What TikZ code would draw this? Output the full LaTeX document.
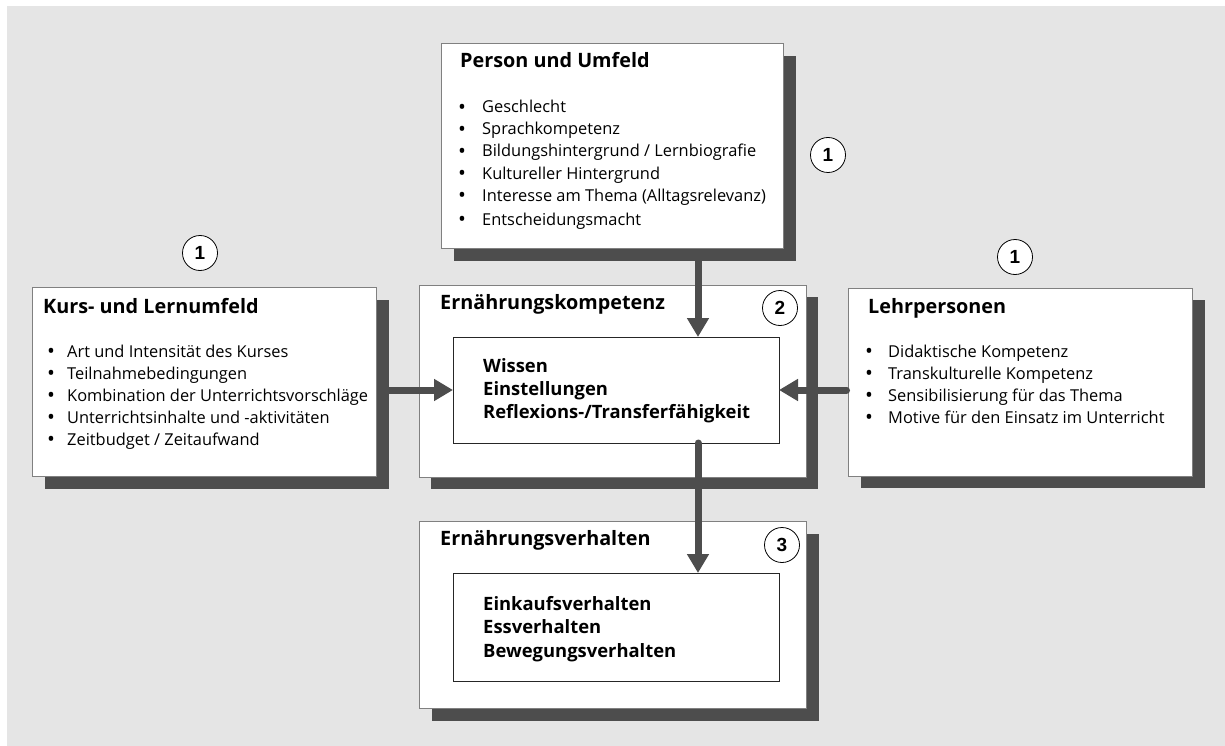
\documentclass[tikz,border=0pt]{standalone}
\usepackage{fontspec}
\setmainfont{Open Sans}
\newfontfamily\numfont{Liberation Sans}
\usetikzlibrary{arrows.meta,calc}
\definecolor{bgc}{HTML}{E5E5E5}
\definecolor{shc}{HTML}{4D4D4D}
\definecolor{bdc}{HTML}{808080}
\newcommand{\bul}[1]{\makebox[#1][l]{\raisebox{-1.2pt}{\fontsize{21}{20}\selectfont •}}}
\begin{document}
\begin{tikzpicture}[x=1pt,y=-1pt,
  box/.style={draw=bdc, line width=0.8pt, fill=white, anchor=north west, inner sep=0pt, outer sep=0pt},
  ibox/.style={draw=black!85, line width=0.8pt, fill=white, anchor=north west, inner sep=0pt, outer sep=0pt},
  shade/.style={fill=shc, draw=none, anchor=north west, inner sep=0pt, outer sep=0pt},
  ttl/.style={font=\fontsize{19.8}{22}\selectfont\bfseries, anchor=base west, inner sep=0pt},
  itm/.style={font=\fontsize{16.4}{20}\selectfont, anchor=base west, inner sep=0pt},
  bld/.style={font=\fontsize{18.4}{22}\selectfont\bfseries, anchor=base west, inner sep=0pt},
  num/.style={circle, draw=black, line width=0.8pt, fill=white, minimum size=35pt, inner sep=0pt, font=\numfont\bfseries\fontsize{19}{20}\selectfont},
  arr/.style={draw=shc, line width=7pt, line cap=round, -{Triangle[length=19pt,width=21pt]}}
]
\useasboundingbox (0,0) rectangle (1225,746);
\fill[bgc] (7,6) rectangle (1225,746);
% shadows
\node[shade, minimum width=342pt, minimum height=205pt] (topsh) at (454,56) {};
\node[shade, minimum width=344pt, minimum height=189pt] (lsh) at (45,300) {};
\node[shade, minimum width=344pt, minimum height=188pt] (rsh) at (861,300) {};
\node[shade, minimum width=387pt, minimum height=192pt] (csh) at (431,297) {};
\node[shade, minimum width=387pt, minimum height=187pt] (bsh) at (432,534) {};
% boxes
\node[box, minimum width=342pt, minimum height=205pt] (top) at (441,43) {};
\node[box, minimum width=344pt, minimum height=189pt] (lbox) at (32,287) {};
\node[box, minimum width=344pt, minimum height=188pt] (rbox) at (848,288) {};
\node[box, minimum width=387pt, minimum height=192pt] (cbox) at (419,285) {};
\node[box, minimum width=387pt, minimum height=187pt] (bbox) at (419,521) {};
\node[ibox, minimum width=326pt, minimum height=106pt] (cin) at (453,337) {};
\node[ibox, minimum width=326pt, minimum height=108pt] (bin) at (453,573) {};
% connectors
\coordinate (colx) at (698,0);
\draw[arr] (topsh.south -| colx) -- (cin.north -| colx);
\draw[arr] (lsh.east |- cin.west) -- (cin.west);
\draw[arr] ([xshift=-1.5pt]rbox.west |- cin.east) -- (cin.east);
\draw[arr] (cin.south -| colx) -- (bin.north -| colx);
% titles
\node[ttl] (ttop) at (460,68) {Person und Umfeld};
\node[ttl] (tl) at (43,313) {Kurs- und Lernumfeld};
\node[ttl] (tr) at (868,313) {Lehrpersonen};
\node[ttl] (tc) at (440,309) {Ernährungskompetenz};
\node[ttl] (tb) at (440,545) {Ernährungsverhalten};
% top list
\foreach \t [count=\i] in {{Geschlecht},{Sprachkompetenz},{Bildungshintergrund / Lernbiografie},{Kultureller Hintergrund},{Interesse am Thema (Alltagsrelevanz)}}
  \node[itm] (pu\i) at (458,{113+22*(\i-1)}) {\bul{24pt}\t};
\node[itm] (pu6) at (458,225) {\bul{24pt}Entscheidungsmacht};
% left list
\foreach \t [count=\i] in {{Art und Intensität des Kurses},{Teilnahmebedingungen},{Kombination der Unterrichtsvorschläge},{Unterrichtsinhalte und -aktivitäten},{Zeitbudget / Zeitaufwand}}
  \node[itm] (kl\i) at (47,{357+22*(\i-1)}) {\bul{20pt}\t};
% right list
\foreach \t [count=\i] in {{Didaktische Kompetenz},{Transkulturelle Kompetenz},{Sensibilisierung für das Thema},{Motive für den Einsatz im Unterricht}}
  \node[itm] (lp\i) at (865,{357+22*(\i-1)}) {\bul{23pt}\t};
% inner texts
\foreach \t [count=\i] in {{Wissen},{Einstellungen},{Reflexions-/Transferfähigkeit}}
  \node[bld] (ek\i) at (483,{372+23*(\i-1)}) {\t};
\foreach \t [count=\i] in {{Einkaufsverhalten},{Essverhalten},{Bewegungsverhalten}}
  \node[bld] (ev\i) at (483,{610+23.5*(\i-1)}) {\t};
% numbers
\node[num] (n1t) at (828,155) {1};
\node[num] (n1l) at (200,253) {1};
\node[num] (n1r) at (1015,257) {1};
\node[num] (n2) at (780,308) {2};
\node[num] (n3) at (782,545) {3};
\end{tikzpicture}
\end{document}
